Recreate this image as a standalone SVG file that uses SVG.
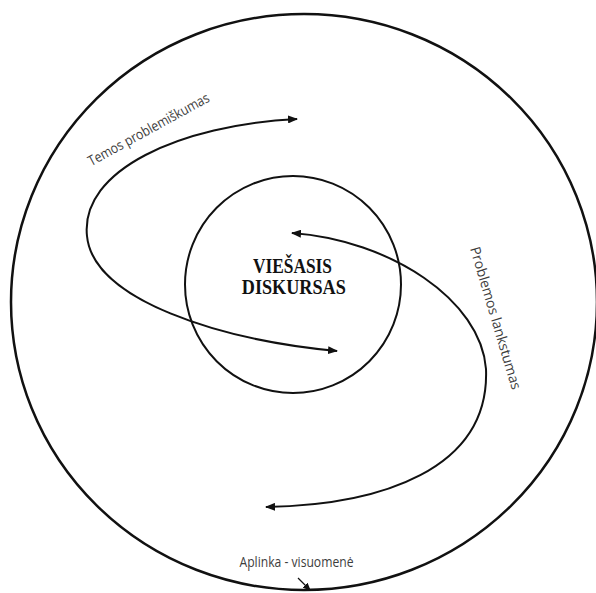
<svg xmlns="http://www.w3.org/2000/svg" width="596" height="593" viewBox="0 0 596 593">
<defs>
<style>
.ring{fill:none;stroke:#111;}
.flow{fill:none;stroke:#111;stroke-width:2;}
.lbl{font-family:"Open Sans","Liberation Sans",Arial,sans-serif;font-size:14px;fill:#3d3d3d;}
.title{font-family:"Liberation Serif","Times New Roman",serif;font-size:20px;font-weight:bold;fill:#111;text-anchor:middle;}
</style>
<marker id="ah" markerUnits="userSpaceOnUse" markerWidth="10" markerHeight="8" refX="9" refY="4" orient="auto-start-reverse">
<path d="M0,0 L10,4 L0,8 z" fill="#111"/>
</marker>
<marker id="ahs" markerUnits="userSpaceOnUse" markerWidth="8" markerHeight="7" refX="7" refY="3.5" orient="auto">
<path d="M0,0 L8,3.5 L0,7 z" fill="#111"/>
</marker>
</defs>
<rect width="596" height="593" fill="#fff"/>
<g id="aplinka">
<ellipse class="ring" cx="304" cy="302" rx="293" ry="288" stroke-width="2.5"/>
<text class="lbl" x="239.5" y="566.5" textLength="114" lengthAdjust="spacingAndGlyphs" fill="#222">Aplinka - visuomenė</text>
</g>
<g id="viesasis-diskursas">
<ellipse class="ring" cx="293" cy="284.5" rx="108" ry="108.5" stroke-width="2"/>
<text class="title" x="292.5" y="273.3" textLength="79" lengthAdjust="spacingAndGlyphs">VIEŠASIS</text>
<text class="title" x="293.8" y="294.3" textLength="104" lengthAdjust="spacingAndGlyphs">DISKURSAS</text>
</g>
<g id="connectors">
<path id="temos" class="flow" d="M297,119 C180,125 80,170 87,236 C93,300 220,340 337,351" marker-start="url(#ah)" marker-end="url(#ah)"/>
<path id="problemos" class="flow" d="M292,233 C390,240 481,300 486,369 C490,470 380,505 266,507" marker-start="url(#ah)" marker-end="url(#ah)"/>
<path id="aplinka-arrow" fill="none" stroke="#111" stroke-width="1.2" d="M298,578 L310,590" marker-end="url(#ahs)"/>
</g>
<g id="labels">
<text class="lbl" transform="translate(151,133.5) rotate(-28.7)" x="0" y="0" text-anchor="middle" textLength="136" lengthAdjust="spacingAndGlyphs">Temos problemiškumas</text>
<text class="lbl" transform="translate(491,319.5) rotate(73.5)" x="0" y="0" text-anchor="middle" textLength="148" lengthAdjust="spacingAndGlyphs" fill="#333">Problemos lankstumas</text>
</g>
</svg>
